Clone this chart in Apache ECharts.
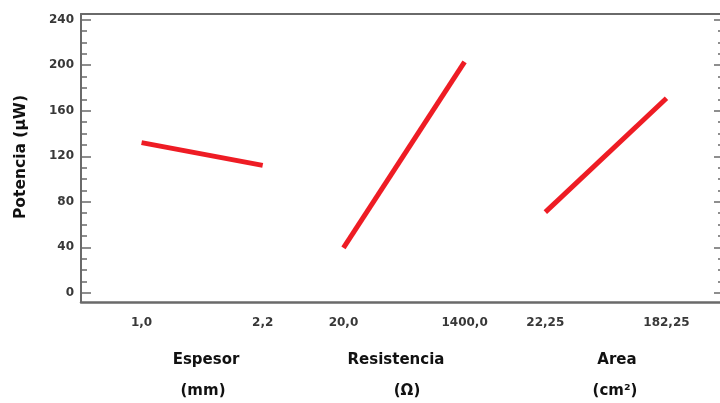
<!DOCTYPE html>
<html>
<head>
<meta charset="utf-8">
<title>Potencia - efectos principales</title>
<script src="https://cdn.jsdelivr.net/npm/echarts@6/dist/echarts.min.js"></script>
<style>
  html, body { margin: 0; padding: 0; background: #fff; }
  #chart { width: 720px; height: 403px; }
</style>
</head>
<body>
<div id="chart"></div>
<script>
// Factors of the main-effects plot and their two levels
const factors = ['Espesor', 'Resistencia', 'Area'];
const factorUnits = ['(mm)', '(Ω)', '(cm²)'];
const levelLabels = [['1,0', '2,2'], ['20,0', '1400,0'], ['22,25', '182,25']];
// Mean power (µW) at the low and high level of each factor
const meanEspesor = [132, 112];
const meanResistencia = [39.5, 203];
const meanArea = [71, 171];
// Y axis tick labels and minor ticks
const yTickLabels = [0, 40, 80, 120, 160, 200, 240];
const yMinorTicks = [10, 20, 30, 50, 60, 70, 90, 100, 110, 130, 140, 150, 170, 180, 190, 210, 220, 230];

const means = [meanEspesor, meanResistencia, meanArea];

// Each factor occupies its own block along the x axis: block width 5, levels 3 apart
const BLOCK = 5, LEVEL_GAP = 3, FIRST = 1.5;
const levelPos = (f, l) => f * BLOCK + FIRST + l * LEVEL_GAP;

const labelAt = {};
factors.forEach((f, i) => {
  levelLabels[i].forEach((lab, j) => { labelAt[levelPos(i, j).toFixed(1)] = lab; });
});

const X_MAX = 15.9;
const Y_MIN = -8, Y_MAX = 245;

const axisGrey = '#6a6a6a';
const tickFont = { fontFamily: 'DejaVu Sans', fontWeight: 'bold', fontSize: 12, color: '#383838' };

const chart = echarts.init(document.getElementById('chart'), null, { renderer: 'canvas' });

const series = factors.map((f, i) => ({
  name: f,
  type: 'line',
  xAxisIndex: 0,
  yAxisIndex: 0,
  showSymbol: false,
  symbol: 'none',
  silent: true,
  lineStyle: { color: '#ee1c24', width: 5 },
  data: means[i].map((v, j) => [levelPos(i, j), v])
}));

const yCommon = { type: 'value', min: Y_MIN, max: Y_MAX, splitLine: { show: false } };
const plotBox = { left: 81, top: 14, width: 642, height: 288, containLabel: false, outerBoundsMode: 'none' };
const hiddenLine = { show: false, onZero: false };

chart.setOption({
  animation: false,
  backgroundColor: '#ffffff',
  // grid 0 holds the data and the major ticks; grid 1 (same box) carries the minor ticks
  grid: [Object.assign({}, plotBox), Object.assign({}, plotBox)],
  xAxis: [
    {
      gridIndex: 0, type: 'value', position: 'bottom', min: 0, max: X_MAX, interval: 0.5,
      axisLine: { show: true, onZero: false, lineStyle: { color: axisGrey, width: 2.5 } },
      axisTick: { show: false },
      splitLine: { show: false },
      axisLabel: Object.assign({
        margin: 15,
        showMinLabel: true, showMaxLabel: true,
        formatter: v => labelAt[Number(v).toFixed(1)] || ''
      }, tickFont)
    },
    {
      gridIndex: 0, type: 'value', position: 'top', min: 0, max: X_MAX,
      axisLine: { show: true, onZero: false, lineStyle: { color: axisGrey, width: 2 } },
      axisTick: { show: false }, axisLabel: { show: false }, splitLine: { show: false }
    },
    {
      gridIndex: 1, type: 'value', min: 0, max: X_MAX, show: false,
      axisLine: hiddenLine
    }
  ],
  yAxis: [
    Object.assign({}, yCommon, {
      gridIndex: 0, position: 'left',
      axisLine: { show: true, onZero: false, lineStyle: { color: axisGrey, width: 2 } },
      axisTick: { show: true, inside: true, length: 10, customValues: yTickLabels, lineStyle: { color: axisGrey, width: 1.5 } },
      axisLabel: Object.assign({ margin: 7, customValues: yTickLabels }, tickFont)
    }),
    Object.assign({}, yCommon, {
      gridIndex: 0, position: 'right',
      axisLine: hiddenLine,
      axisTick: { show: true, inside: true, length: 9, customValues: yTickLabels, lineStyle: { color: axisGrey, width: 1.5 } },
      axisLabel: { show: false }
    }),
    Object.assign({}, yCommon, {
      gridIndex: 1, position: 'left',
      axisLine: hiddenLine,
      axisTick: { show: true, inside: true, length: 6, customValues: yMinorTicks, lineStyle: { color: axisGrey, width: 1.5 } },
      axisLabel: { show: false }
    }),
    Object.assign({}, yCommon, {
      gridIndex: 1, position: 'right',
      axisLine: hiddenLine,
      axisTick: { show: true, inside: true, length: 5, customValues: yMinorTicks, lineStyle: { color: axisGrey, width: 1.5 } },
      axisLabel: { show: false }
    })
  ],
  series: series,
  graphic: [
    {
      type: 'text', x: 21, y: 157, rotation: Math.PI / 2, silent: true,
      style: {
        text: 'Potencia (µW)', fill: '#111', font: 'bold 15.5px "DejaVu Sans"',
        align: 'center', verticalAlign: 'middle'
      }
    }
  ].concat(
    factors.map((f, i) => ({
      type: 'text', x: [206, 396, 617][i], y: 360, silent: true,
      style: { text: f, fill: '#111', font: 'bold 15px "DejaVu Sans"', align: 'center', verticalAlign: 'middle' }
    })),
    factorUnits.map((u, i) => ({
      type: 'text', x: [203, 407, 615][i], y: 391, silent: true,
      style: { text: u, fill: '#111', font: 'bold 15px "DejaVu Sans"', align: 'center', verticalAlign: 'middle' }
    }))
  )
});
</script>
</body>
</html>
